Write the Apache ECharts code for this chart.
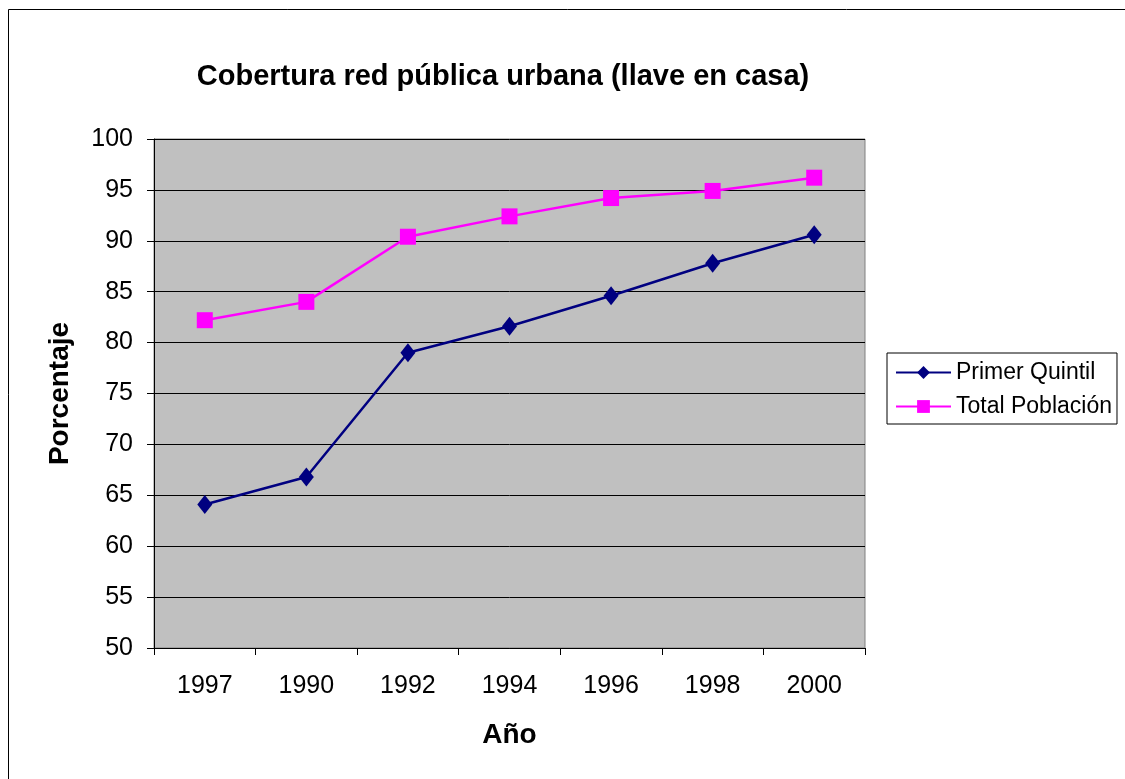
<!DOCTYPE html>
<html>
<head>
<meta charset="utf-8">
<script src="https://cdn.jsdelivr.net/npm/echarts@6/dist/echarts.min.js"></script>
<style>
  html, body { margin: 0; padding: 0; background: #fff; }
  #chart { width: 1125px; height: 779px; }
</style>
</head>
<body>
<div id="chart"></div>
<script>
// Años en el eje X (orden tal como aparecen)
const years = ['1997', '1990', '1992', '1994', '1996', '1998', '2000'];
// Cobertura de red pública urbana (%)
const primerQuintil = [64.1, 66.8, 79.0, 81.6, 84.6, 87.8, 90.6];
const totalPoblacion = [82.2, 84.0, 90.4, 92.4, 94.2, 94.9, 96.2];

const FONT = 'Liberation Sans, Arial, sans-serif';

const chart = echarts.init(document.getElementById('chart'));
chart.setOption({
  animation: false,
  backgroundColor: '#fff',
  textStyle: { fontFamily: FONT, color: '#000' },
  title: {
    text: 'Cobertura red pública urbana (llave en casa)',
    left: 498, top: 57, textAlign: 'center',
    textStyle: { fontFamily: FONT, fontSize: 29, fontWeight: 'bold', color: '#000' }
  },
  grid: {
    left: 154, top: 139, width: 711, height: 509,
    show: true, backgroundColor: '#C0C0C0', borderColor: '#808080', borderWidth: 1
  },
  legend: {
    orient: 'vertical', left: 887, top: 353,
    itemWidth: 55, itemHeight: 16, itemGap: 11,
    padding: [8, 5, 6, 8],
    borderColor: '#000', borderWidth: 1,
    textStyle: { fontFamily: FONT, fontSize: 23, color: '#000' },
    data: ['Primer Quintil', 'Total Población']
  },
  xAxis: {
    type: 'category', data: years, boundaryGap: true,
    name: 'Año', nameLocation: 'middle', nameGap: 73,
    nameTextStyle: { fontFamily: FONT, fontSize: 28, fontWeight: 'bold', color: '#000' },
    axisLine: { lineStyle: { color: '#000', width: 1 } },
    axisTick: { show: true, length: 7, alignWithLabel: false, lineStyle: { color: '#000' } },
    axisLabel: { fontFamily: FONT, fontSize: 25, color: '#000', margin: 26 }
  },
  yAxis: {
    type: 'value', min: 50, max: 100, interval: 5,
    name: 'Porcentaje', nameLocation: 'middle', nameGap: 80, nameRotate: 90,
    nameTextStyle: { fontFamily: FONT, fontSize: 28, fontWeight: 'bold', color: '#000' },
    axisLine: { show: true, lineStyle: { color: '#000', width: 1 } },
    axisTick: { show: true, length: 7, lineStyle: { color: '#000' } },
    axisLabel: { fontFamily: FONT, fontSize: 25, color: '#000', margin: 21 },
    splitLine: { show: true, lineStyle: { color: '#000', width: 1 } }
  },
  series: [
    {
      name: 'Primer Quintil', type: 'line', data: primerQuintil,
      symbol: 'diamond', symbolSize: [15, 19],
      lineStyle: { color: '#000080', width: 2.5 },
      itemStyle: { color: '#000080' }
    },
    {
      name: 'Total Población', type: 'line', data: totalPoblacion,
      symbol: 'rect', symbolSize: 16,
      lineStyle: { color: '#FF00FF', width: 2.5 },
      itemStyle: { color: '#FF00FF' }
    }
  ],
  graphic: [
    {
      type: 'polyline', silent: true,
      shape: { points: [[8.5, 800], [8.5, 9.5], [1200, 9.5]] },
      style: { stroke: '#000', lineWidth: 1, fill: null }
    }
  ]
});
</script>
</body>
</html>
